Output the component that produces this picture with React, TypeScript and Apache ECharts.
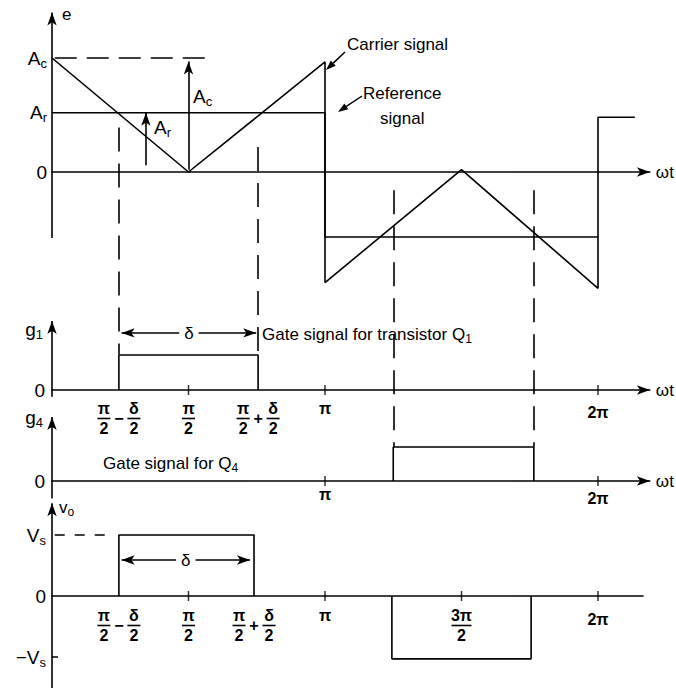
import React, { useEffect, useRef } from "react";
import * as echarts from "echarts";

const FONT = "'Liberation Sans', Arial, Helvetica, sans-serif";

// ---------- data (x in units of π) ----------
const AC = 1;
const AR = 0.52;
const carrierX = [0, 0.5, 1, 1, 1.5, 2, 2, 2.135];
const carrierY = [1, 0, 0.965, -0.97, 0.02, -1.02, 0.48, 0.48];
const referenceX = [0, 1, 1, 2];
const referenceY = [0.52, 0.52, -0.57, -0.57];

const g1X = [0.245, 0.245, 0.755, 0.755];
const g1Y = [0, 1, 1, 0];
const g4X = [1.25, 1.25, 1.765, 1.765];
const g4Y = [0, 1, 1, 0];
const voPosX = [0.245, 0.245, 0.74, 0.74];
const voPosY = [0, 1, 1, 0];
const voNegX = [1.245, 1.245, 1.755, 1.755];
const voNegY = [0, -1.03, -1.03, 0];

const dashX = [0.245, 0.755, 1.25, 1.765];
const dashTop = [0.39, 0.22, -0.16, -0.16];
const dashBottom = [-1.6, -1.6, -2.41, -2.41];

const g1TickValues = [0.5, 1, 2];
const g4TickValues = [1, 2];
const voTickValues = [0.5, 1, 1.5, 2];

const g1LabelValues = [0.245, 0.5, 0.755, 1, 2];
const g1LabelTexts = ["π/2 − δ/2", "π/2", "π/2 + δ/2", "π", "2π"];
const g4LabelValues = [1, 2];
const g4LabelTexts = ["π", "2π"];
const voLabelValues = [0.245, 0.5, 0.74, 1, 1.5, 2];
const voLabelTexts = ["π/2 − δ/2", "π/2", "π/2 + δ/2", "π", "3π/2", "2π"];

const eYValues = [0, AR, AC];
const eYTexts = ["0", "A_r", "A_c"];
const voYValues = [-1, 0, 1];
const voYTexts = ["−V_s", "0", "V_s"];

// ---------- layout ----------
const PX_PER_PI = 273;
const X0 = 52;
// panel 4 is an axis-label strip whose bottom edge sits on the v0 zero line
const panels = [
  { zeroY: 172, scale: 114, min: -2.45, max: 1.45, xMax: 2.19 },
  { zeroY: 390, scale: 35, min: 0, max: 2.15, xMax: 2.19 },
  { zeroY: 481, scale: 34, min: 0, max: 2.7, xMax: 2.19 },
  { zeroY: 596, scale: 61, min: -1.6, max: 1.9, xMax: 2.165 },
  { zeroY: 596, scale: 61, min: 0, max: 1.5, xMax: 2.165 },
];

const LW = 1.6;
const BLACK = "#000";

const pts = (xs: number[], ys: number[]) => xs.map((x, i) => [x, ys[i]]);

const LBL = { fontFamily: FONT, fontSize: 16, fontWeight: "bold", color: BLACK };
const tickRich: any = {
  n: { ...LBL, width: 13, align: "center", lineHeight: 15 },
  g: { ...LBL, width: 17, align: "center", lineHeight: 15 },
  op: { ...LBL, width: 17, align: "center", lineHeight: 5 },
  bar: { width: 13, height: 1.6, lineHeight: 5, backgroundColor: BLACK, align: "center" },
  wide: { ...LBL, width: 22, align: "center", lineHeight: 15 },
  wbar: { width: 20, height: 1.6, lineHeight: 5, backgroundColor: BLACK, align: "center" },
  pi: { ...LBL, lineHeight: 15 },
  pi2: { ...LBL, lineHeight: 15, padding: [8, 0, 0, 0] },
};

function tickRichText(s: string): string {
  switch (s) {
    case "π/2 − δ/2":
      return "{n|π}{g| }{n|δ}\n{bar| }{op|−}{bar| }\n{n|2}{g| }{n|2}";
    case "π/2 + δ/2":
      return "{n|π}{g| }{n|δ}\n{bar| }{op|+}{bar| }\n{n|2}{g| }{n|2}";
    case "π/2":
      return "{n|π}\n{bar| }\n{n|2}";
    case "3π/2":
      return "{wide|3π}\n{wbar| }\n{wide|2}";
    case "π":
      return "{pi|π}";
    case "2π":
      return "{pi2|2π}";
    default:
      return s;
  }
}

const subRichEC = (size: number) => ({
  m: { fontFamily: FONT, fontSize: size, color: BLACK, lineHeight: size + 4 },
  s: {
    fontFamily: FONT,
    fontSize: Math.round(size * 0.68),
    color: BLACK,
    lineHeight: Math.round(size * 0.68),
    padding: [Math.round(size * 0.55), 0, 0, 0],
  },
});
const subRichZ = (size: number) => ({
  m: { fontFamily: FONT, fontSize: size, fill: BLACK, lineHeight: size + 4 },
  s: {
    fontFamily: FONT,
    fontSize: Math.round(size * 0.68),
    fill: BLACK,
    lineHeight: Math.round(size * 0.68),
    padding: [Math.round(size * 0.55), 0, 0, 0],
  },
});

// "A_c" -> "{m|A}{s|c}"
function subText(s: string): string {
  const k = s.indexOf("_");
  if (k < 0) return `{m|${s}}`;
  return `{m|${s.slice(0, k)}}{s|${s.slice(k + 1)}}`;
}

const lookup = (vals: number[], texts: string[]) => (v: number) => {
  const i = vals.findIndex((a) => Math.abs(a - v) < 1e-6);
  return i < 0 ? "" : texts[i];
};

function seg(x1: number, y1: number, x2: number, y2: number, o: any = {}) {
  const lineStyle = o.lineStyle || { color: BLACK, width: LW, type: "solid" };
  const label = o.label || { show: false };
  return [
    { coord: [x1, y1], symbol: o.start || "none", lineStyle, label },
    { coord: [x2, y2], symbol: o.end || "none", lineStyle, label },
  ];
}

const markLine = (data: any[]) => ({
  silent: true,
  animation: false,
  symbol: ["none", "none"],
  symbolSize: [7, 13],
  label: { show: false },
  emphasis: { disabled: true },
  lineStyle: { color: BLACK, width: LW, type: "solid" },
  data,
});

const lineSeries = (idx: number, data: number[][], extra: any = {}) => ({
  type: "line",
  xAxisIndex: idx,
  yAxisIndex: idx,
  data,
  symbol: "none",
  silent: true,
  animation: false,
  clip: false,
  lineStyle: { color: BLACK, width: LW },
  z: 3,
  ...extra,
});

const tickSeries = (idx: number, vals: number[]) => ({
  type: "scatter",
  xAxisIndex: idx,
  yAxisIndex: idx,
  data: vals.map((v) => [v, 0]),
  symbol: "rect",
  symbolSize: [1.5, 10],
  itemStyle: { color: BLACK },
  silent: true,
  animation: false,
  clip: false,
  z: 4,
});

function pointer(x1: number, y1: number, x2: number, y2: number) {
  const ang = Math.atan2(y2 - y1, x2 - x1);
  const L = 10;
  const W = 3.5;
  const bx = x2 - L * Math.cos(ang);
  const by = y2 - L * Math.sin(ang);
  const px = -Math.sin(ang) * W;
  const py = Math.cos(ang) * W;
  return [
    { type: "line", shape: { x1, y1, x2: bx, y2: by }, style: { stroke: BLACK, lineWidth: 1.5 } },
    {
      type: "polygon",
      shape: { points: [[x2, y2], [bx + px, by + py], [bx - px, by - py]] },
      style: { fill: BLACK },
    },
  ];
}

function gText(text: string, x: number, y: number, align = "left", size = 17, rich = false) {
  const style: any = {
    text,
    x,
    y,
    fill: BLACK,
    fontFamily: FONT,
    fontSize: size,
    align,
    verticalAlign: "middle",
    textAlign: align,
    textVerticalAlign: "middle",
  };
  if (rich) style.rich = subRichZ(size);
  return { type: "text", silent: true, style };
}

export default function App() {
  const ref = useRef<HTMLDivElement>(null);

  useEffect(() => {
    if (!ref.current) return;
    const chart = echarts.init(ref.current, null, { renderer: "svg" });

    const grid = panels.map((p) => ({
      left: X0,
      top: p.zeroY - p.max * p.scale,
      width: p.xMax * PX_PER_PI,
      height: (p.max - p.min) * p.scale,
      containLabel: false,
      outerBoundsMode: "none",
    }));

    const xLabelCfg = (vals: number[], texts: string[], margin: number) => ({
      show: true,
      customValues: vals,
      margin,
      formatter: (v: number) => tickRichText(lookup(vals, texts)(v)),
      rich: tickRich,
    });

    const xAxis = panels.map((p, i) => ({
      type: "value",
      gridIndex: i,
      min: 0,
      max: p.xMax,
      splitLine: { show: false },
      axisTick: { show: false },
      axisLabel:
        i === 1
          ? xLabelCfg(g1LabelValues, g1LabelTexts, 11)
          : i === 2
          ? xLabelCfg(g4LabelValues, g4LabelTexts, 6)
          : i === 4
          ? xLabelCfg(voLabelValues, voLabelTexts, 12)
          : { show: false },
      axisLine: {
        show: i !== 4,
        onZero: true,
        symbol: i === 3 ? ["none", "none"] : ["none", "arrow"],
        symbolSize: [7, 13],
        lineStyle: { color: BLACK, width: LW },
      },
      name: i >= 3 ? "" : "ωt",
      nameLocation: "end",
      nameGap: 6,
      nameTextStyle: { fontFamily: FONT, fontSize: 17, color: BLACK },
    }));

    const yLabelCfg = (vals: number[], texts: string[], margin: number) => ({
      show: true,
      customValues: vals,
      margin,
      formatter: (v: number) => subText(lookup(vals, texts)(v)),
      rich: subRichEC(19),
    });

    const yAxis = panels.map((p, i) => ({
      type: "value",
      gridIndex: i,
      min: p.min,
      max: p.max,
      show: i !== 4,
      splitLine: { show: false },
      axisLine: { show: false },
      axisTick:
        i === 3
          ? { show: true, customValues: [-1], inside: true, length: 6, lineStyle: { color: BLACK, width: 1.5 } }
          : { show: false },
      axisLabel:
        i === 0
          ? yLabelCfg(eYValues, eYTexts, 5)
          : i === 3
          ? yLabelCfg(voYValues, voYTexts, 6)
          : i === 4
          ? { show: false }
          : yLabelCfg([0], ["0"], 7),
    }));

    const dashed = { color: BLACK, width: LW, type: [24, 12] };
    const deltaLabel = {
      show: true,
      position: "middle",
      formatter: "δ",
      fontFamily: FONT,
      fontSize: 17,
      color: BLACK,
      backgroundColor: "#fff",
      padding: [1, 5],
      distance: -10,
    };

    const series: any[] = [
      lineSeries(0, pts(carrierX, carrierY), {
        markLine: markLine([
          seg(0, -0.58, 0, 1.4, { end: "arrow" }),
          seg(0.01, AC, 0.586, AC, { lineStyle: { color: BLACK, width: LW, type: [22, 10] } }),
          seg(0.5, 0.02, 0.5, 0.97, { end: "arrow" }),
          seg(0.344, 0.06, 0.344, AR, { end: "arrow" }),
          ...dashX.map((x, i) => seg(x, dashTop[i], x, dashBottom[i], { lineStyle: dashed })),
        ]),
      }),
      lineSeries(0, pts(referenceX, referenceY)),
      lineSeries(1, pts(g1X, g1Y), {
        markLine: markLine([
          seg(0, 0, 0, 1.97, { end: "arrow" }),
          seg(0.255, 1.63, 0.748, 1.63, { start: "arrow", end: "arrow", label: deltaLabel }),
        ]),
      }),
      tickSeries(1, g1TickValues),
      lineSeries(2, pts(g4X, g4Y), {
        markLine: markLine([
          seg(0, 0, 0, 1.88, { end: "arrow" }),
          seg(0, 2.48, 0, 2.68),
        ]),
      }),
      tickSeries(2, g4TickValues),
      lineSeries(3, pts(voPosX, voPosY), {
        markLine: markLine([
          seg(0, -1.52, 0, 1.52, { end: "arrow" }),
          seg(0, 1.6, 0, 1.885),
          seg(0.01, 1, 0.212, 1, { lineStyle: { color: BLACK, width: LW, type: [10, 10] } }),
          seg(0.255, 0.59, 0.725, 0.59, { start: "arrow", end: "arrow", label: deltaLabel }),
        ]),
      }),
      lineSeries(3, pts(voNegX, voNegY)),
      tickSeries(3, voTickValues),
    ];

    const graphic: any[] = [
      gText("e", 62, 14, "left", 17),
      gText(subText("g_1"), 43, 329, "right", 19, true),
      gText(subText("g_4"), 43, 417, "right", 19, true),
      gText(subText("v_o"), 59, 507, "left", 17, true),
      gText("Carrier signal", 347, 44, "left", 17),
      gText("Reference", 363, 93, "left", 17),
      gText("signal", 380, 118, "left", 17),
      gText("{m|Gate signal for transistor Q}{s|1}", 262, 334, "left", 17, true),
      gText("{m|Gate signal for Q}{s|4}", 103, 463, "left", 17, true),
      gText(subText("A_c"), 193, 96, "left", 19, true),
      gText(subText("A_r"), 154, 127, "left", 19, true),
      ...pointer(345, 52, 326, 70),
      ...pointer(362, 96, 338, 112),
    ];

    chart.setOption({
      animation: false,
      backgroundColor: "#fff",
      textStyle: { fontFamily: FONT },
      grid,
      xAxis,
      yAxis,
      series,
      graphic,
    });

    return () => chart.dispose();
  }, []);

  return (
    <div
      ref={ref}
      style={{ position: "absolute", left: 0, top: 0, width: 676, height: 688, background: "#fff" }}
    />
  );
}
